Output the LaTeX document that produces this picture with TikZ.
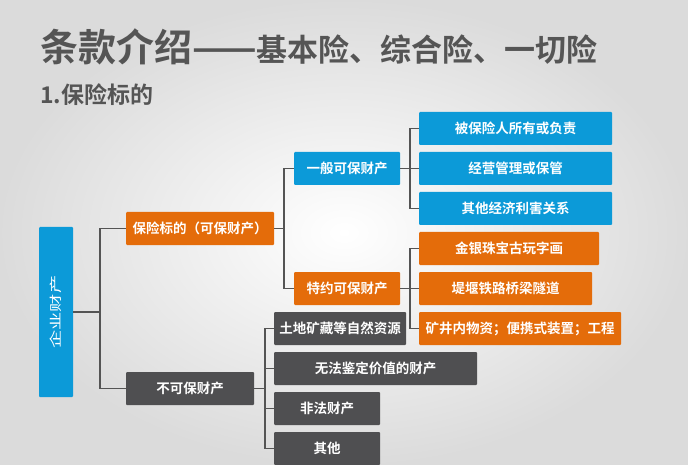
\documentclass[tikz,border=0pt]{standalone}
\usepackage{graphicx}
\usepackage{fontspec}
\setmainfont{Noto Sans CJK SC}[BoldFont={Noto Sans CJK SC Bold}]

\definecolor{boxblue}{HTML}{0C9AD8}
\definecolor{boxorange}{HTML}{E46C0A}
\definecolor{boxgray}{HTML}{4F4F51}
\definecolor{linegray}{HTML}{545454}
\definecolor{titlegray}{HTML}{555555}

\begin{document}
\begin{tikzpicture}[x=1pt,y=-1pt]
  \tikzset{box/.style={inner sep=0pt,minimum height=33pt,text=white,rounded corners=1pt,font=\fontsize{13.5}{16}\selectfont\bfseries},
    bluebox/.style={box,fill=boxblue},
    orangebox/.style={box,fill=boxorange},
    graybox/.style={box,fill=boxgray},
    link/.style={draw=linegray,line width=1.6pt}}
  \useasboundingbox (0,0) rectangle (688,465);
  \shade[inner color=white,outer color=gray!28] (0,0) rectangle (688,465);
  \node[anchor=base west,inner sep=0pt,text=titlegray] (title) at (40,62) {\fontsize{38}{40}\selectfont\bfseries 条款介绍——\fontsize{31}{36}\selectfont 基本险、综合险、一切险};
  \node[anchor=base west,inner sep=0pt,text=titlegray] (sub) at (40,104) {\fontsize{23}{26}\selectfont\bfseries 1.保险标的};
  \node[bluebox,minimum width=34pt,minimum height=170pt] (root) at (56,312) {\rotatebox{90}{\fontsize{13}{13}\selectfont\mdseries\scalebox{1.4}[0.95]{企业财产}}};
  \node[orangebox,minimum width=148pt] (ins) at (200,228.5) {保险标的（可保财产）};
  \node[graybox,minimum width=128pt] (non) at (190,388.5) {不可保财产};
  \node[bluebox,minimum width=106pt] (gen) at (347,168.5) {一般可保财产};
  \node[orangebox,minimum width=106pt] (spe) at (347,288.5) {特约可保财产};
  \node[bluebox,minimum width=193pt] (g1) at (515.5,128.5) {被保险人所有或负责};
  \node[bluebox,minimum width=193pt] (g2) at (515.5,168.5) {经营管理或保管};
  \node[bluebox,minimum width=193pt] (g3) at (515.5,208.5) {其他经济利害关系};
  \node[orangebox,minimum width=180pt] (s1) at (509,248.5) {金银珠宝古玩字画};
  \node[orangebox,minimum width=173pt] (s2) at (505.5,288.5) {堤堰铁路桥梁隧道};
  \node[orangebox,minimum width=202pt] (s3) at (520,328.5) {矿井内物资；便携式装置；工程};
  \node[graybox,minimum width=132pt] (u1) at (340,328.5) {土地矿藏等自然资源};
  \node[graybox,minimum width=203pt] (u2) at (375.5,368.5) {无法鉴定价值的财产};
  \node[graybox,minimum width=106pt] (u3) at (327,408.5) {非法财产};
  \node[graybox,minimum width=106pt] (u4) at (327,448.5) {其他};
  \draw[link] (root.east) -- ++(27,0) |- (ins.west);
  \draw[link] (root.east) -- ++(27,0) |- (non.west);
  \draw[link] (ins.east) -- ++(10,0) |- (gen.west);
  \draw[link] (ins.east) -- ++(10,0) |- (spe.west);
  \foreach \n in {g1,g2,g3}
    \draw[link] (gen.east) -- ++(10,0) |- (\n.west);
  \foreach \n in {s1,s2,s3}
    \draw[link] (spe.east) -- ++(10,0) |- (\n.west);
  \foreach \n in {u1,u2,u3,u4}
    \draw[link] (non.east) -- ++(11,0) |- (\n.west);
\end{tikzpicture}
\end{document}
